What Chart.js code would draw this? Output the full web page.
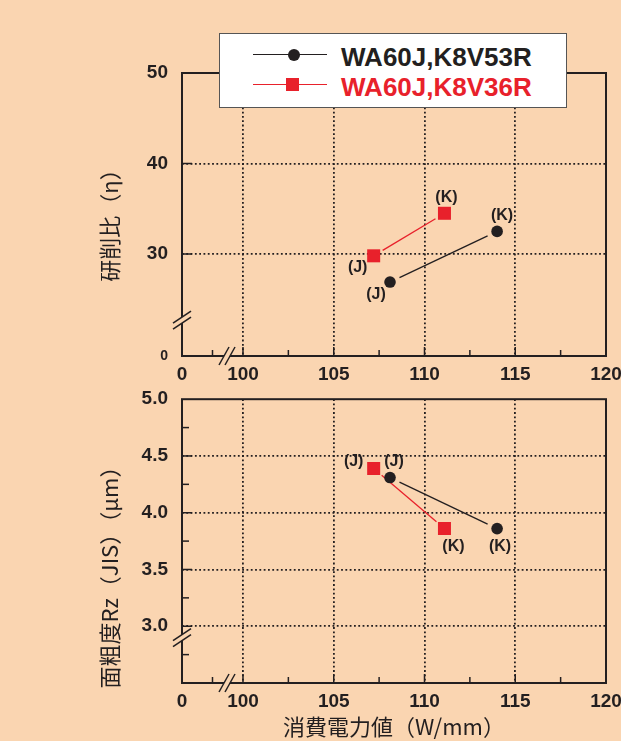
<!DOCTYPE html>
<html>
<head>
<meta charset="utf-8">
<script src="https://cdn.jsdelivr.net/npm/chart.js@4"></script>
<style>
  body { margin: 0; width: 621px; height: 741px; overflow: hidden; position: relative; background: #FAD5B1; }
  canvas { position: absolute; left: 0; }
  #top { top: 0; }
  #bottom { top: 390px; }
  #legend { position: absolute; left: 219px; top: 33px; width: 346px; height: 73px; background: #fff; border: 1.5px solid #555; }
  .ln { position: absolute; height: 1.3px; left: 33px; width: 74px; }
  .mk { position: absolute; }
  .txt { position: absolute; left: 121px; font: bold 26px "Liberation Sans", Arial, sans-serif; line-height: 30px; white-space: nowrap; }
</style>
</head>
<body>
<canvas id="top" width="621" height="390"></canvas>
<canvas id="bottom" width="621" height="351"></canvas>
<div id="legend">
  <div class="ln" style="top:20px;background:#231F20"></div>
  <div class="mk" style="left:68px;top:15px;width:12px;height:12px;border-radius:50%;background:#231F20"></div>
  <div class="txt" id="name0" style="top:8px;color:#231F20"></div>
  <div class="ln" style="top:50px;background:#E8212B"></div>
  <div class="mk" style="left:66px;top:44px;width:13px;height:13px;background:#E8212B"></div>
  <div class="txt" id="name1" style="top:38px;color:#E8212B"></div>
</div>
<script>
// values
const seriesNames = ['WA60J,K8V53R', 'WA60J,K8V36R'];
const pointTags = ['(J)', '(K)'];
const powerBlack = [108.1, 114.0];
const powerRed = [107.2, 111.1];
const ratioBlack = [26.9, 32.5];
const ratioRed = [29.8, 34.5];
const roughBlack = [4.31, 3.86];
const roughRed = [4.39, 3.86];

// axis ticks (lowest value is the broken-axis origin, labelled 0)
const xTickValues = [96.64, 98.32, 100, 102.5, 105, 107.5, 110, 112.5, 115, 117.5, 120];
const ratioTickValues = [18.73, 30, 40, 50];
const roughTickValues = [2.5, 2.75, 3, 3.25, 3.5, 3.75, 4, 4.25, 4.5, 4.75, 5];

const ink = '#231F20';
const red = '#E8212B';
const bg = '#FAD5B1';
const tickFont = { family: '"Liberation Sans", Arial, sans-serif', size: 19, weight: 'bold' };
const jpFont = '22px "Noto Sans CJK JP", sans-serif';
const gridDash = [1.8, 2.5];

document.getElementById('name0').textContent = seriesNames[0];
document.getElementById('name1').textContent = seriesNames[1];

function toPoints(xs, ys) {
    return xs.map((x, i) => ({ x, y: ys[i] }));
}

// draws the // marks where an axis is broken
function drawBreak(ctx, cx, cy, d, sep) {
    const a = [cx - sep[0] / 2, cy - sep[1] / 2];
    const b = [cx + sep[0] / 2, cy + sep[1] / 2];
    ctx.fillStyle = bg;
    ctx.beginPath();
    ctx.moveTo(a[0] - d[0], a[1] - d[1]);
    ctx.lineTo(a[0] + d[0], a[1] + d[1]);
    ctx.lineTo(b[0] + d[0], b[1] + d[1]);
    ctx.lineTo(b[0] - d[0], b[1] - d[1]);
    ctx.closePath();
    ctx.fill();
    ctx.strokeStyle = ink;
    ctx.lineWidth = 1.5;
    [a, b].forEach((p) => {
        ctx.beginPath();
        ctx.moveTo(p[0] - d[0], p[1] - d[1]);
        ctx.lineTo(p[0] + d[0], p[1] + d[1]);
        ctx.stroke();
    });
}

// lines between points, stopping short of the markers
const gapLines = {
    id: 'gapLines',
    beforeDatasetsDraw(chart) {
        const ctx = chart.ctx;
        chart.data.datasets.forEach((ds, i) => {
            const pts = chart.getDatasetMeta(i).data;
            ctx.save();
            ctx.strokeStyle = ds.backgroundColor;
            ctx.lineWidth = 1.3;
            for (let k = 1; k < pts.length; k++) {
                const a = pts[k - 1], b = pts[k];
                const dx = b.x - a.x, dy = b.y - a.y;
                const g = 10.5 / Math.hypot(dx, dy);
                ctx.beginPath();
                ctx.moveTo(a.x + dx * g, a.y + dy * g);
                ctx.lineTo(b.x - dx * g, b.y - dy * g);
                ctx.stroke();
            }
            ctx.restore();
        });
    },
    afterDatasetsDraw(chart, args, opts) {
        const ctx = chart.ctx;
        ctx.save();
        ctx.font = 'bold 16px "Liberation Sans", Arial, sans-serif';
        ctx.fillStyle = ink;
        ctx.textAlign = 'center';
        ctx.textBaseline = 'middle';
        chart.data.datasets.forEach((ds, i) => {
            chart.getDatasetMeta(i).data.forEach((p, k) => {
                const off = opts.offsets[i][k];
                ctx.fillText(pointTags[k], p.x + off[0], p.y + off[1]);
            });
        });
        ctx.restore();
    }
};

// frame, inward tick marks, axis breaks and titles
const frame = {
    id: 'frame',
    afterDraw(chart, args, opts) {
        const { ctx, chartArea: a, scales: { x, y } } = chart;
        ctx.save();
        ctx.strokeStyle = ink;
        ctx.lineWidth = 1.5;
        x.ticks.forEach((t) => {
            if (t.value === x.min) return;
            const px = x.getPixelForValue(t.value);
            const len = t.value % 5 === 0 ? 9 : 6;
            ctx.beginPath();
            ctx.moveTo(px, a.bottom);
            ctx.lineTo(px, a.bottom - len);
            ctx.stroke();
        });
        y.ticks.forEach((t) => {
            if (t.value === y.min || t.value === y.max) return;
            const py = y.getPixelForValue(t.value);
            const len = opts.isMajorY(t.value) ? 10 : 7;
            ctx.beginPath();
            ctx.moveTo(a.left, py);
            ctx.lineTo(a.left + len, py);
            ctx.stroke();
        });
        ctx.lineWidth = 2;
        ctx.strokeRect(a.left, a.top, a.right - a.left, a.bottom - a.top);

        drawBreak(ctx, a.left, y.getPixelForValue(opts.yBreak), [9, -6], [0, 6]);
        drawBreak(ctx, x.getPixelForValue(opts.xBreak), a.bottom, [5, -9], [6, 0]);

        ctx.fillStyle = ink;
        ctx.font = jpFont;
        ctx.textAlign = 'center';
        ctx.textBaseline = 'middle';
        opts.titles.forEach((t) => {
            ctx.save();
            ctx.translate(t.x, t.y);
            ctx.rotate(t.rot);
            ctx.fillText(t.text, 0, 0);
            ctx.restore();
        });
        ctx.restore();
    }
};

function makePanel(id, cfg) {
    return new Chart(document.getElementById(id), {
        type: 'scatter',
        data: {
            datasets: [
                {
                    label: seriesNames[0],
                    data: toPoints(powerBlack, cfg.black),
                    pointStyle: 'circle',
                    pointRadius: 5.8,
                    backgroundColor: ink,
                    borderWidth: 0,
                },
                {
                    label: seriesNames[1],
                    data: toPoints(powerRed, cfg.red),
                    pointStyle: 'rect',
                    pointRadius: 9.2,
                    backgroundColor: red,
                    borderWidth: 0,
                },
            ],
        },
        options: {
            responsive: false,
            animation: false,
            events: [],
            layout: { padding: { top: cfg.padTop, right: 15, left: 0, bottom: 0 } },
            plugins: {
                legend: { display: false },
                tooltip: { enabled: false },
                gapLines: { offsets: cfg.tagOffsets },
                frame: { isMajorY: cfg.isMajorY, yBreak: cfg.yBreak, xBreak: 99.12, titles: cfg.titles },
            },
            scales: {
                x: {
                    type: 'linear',
                    min: xTickValues[0],
                    max: 120,
                    afterFit: (s) => { s.height = cfg.xHeight; s.paddingLeft = 0; s.paddingRight = 0; },
                    afterBuildTicks: (s) => { s.ticks = xTickValues.map((v) => ({ value: v })); },
                    ticks: {
                        autoSkip: false,
                        maxRotation: 0,
                        padding: 7,
                        color: ink,
                        font: tickFont,
                        callback: (v) => (v === xTickValues[0] ? '0' : v % 5 === 0 ? String(v) : ''),
                    },
                    grid: {
                        drawTicks: false,
                        lineWidth: 1.8,
                        color: (c) => (c.tick && c.tick.value % 5 === 0 && c.tick.value < 120 ? ink : 'rgba(0,0,0,0)'),
                    },
                    border: { display: false, dash: gridDash },
                },
                y: {
                    type: 'linear',
                    min: cfg.yTicks[0],
                    max: cfg.yTicks[cfg.yTicks.length - 1],
                    afterFit: (s) => { s.width = 182; s.paddingTop = 0; s.paddingBottom = 0; },
                    afterBuildTicks: (s) => { s.ticks = cfg.yTicks.map((v) => ({ value: v })); },
                    ticks: {
                        autoSkip: false,
                        padding: 14,
                        color: ink,
                        font: (c) => (c.tick && c.tick.value === cfg.yTicks[0] ? { ...tickFont, size: 14 } : tickFont),
                        callback: cfg.yLabel,
                    },
                    grid: {
                        drawTicks: false,
                        lineWidth: 1.8,
                        color: (c) => (c.tick && cfg.yGrid.includes(c.tick.value) ? ink : 'rgba(0,0,0,0)'),
                    },
                    border: { display: false, dash: gridDash },
                },
            },
        },
        plugins: [gapLines, frame],
    });
}

makePanel('top', {
    black: ratioBlack,
    red: ratioRed,
    yTicks: ratioTickValues,
    yGrid: [30, 40],
    yLabel: (v) => (v === ratioTickValues[0] ? '0' : String(v)),
    isMajorY: () => true,
    yBreak: 22.7,
    padTop: 73,
    xHeight: 34,
    tagOffsets: [[[-14, 13], [5, -16]], [[-16, 12], [2, -16]]],
    titles: [{ text: '研削比（η）', x: 110, y: 220, rot: -Math.PI / 2 }],
});

makePanel('bottom', {
    black: roughBlack,
    red: roughRed,
    yTicks: roughTickValues,
    yGrid: [3, 3.5, 4, 4.5],
    yLabel: (v) => (Math.abs(v * 2 - Math.round(v * 2)) < 1e-6 && v > 2.5 ? v.toFixed(1) : ''),
    isMajorY: (v) => Math.abs(v * 2 - Math.round(v * 2)) < 1e-6,
    yBreak: 2.9,
    padTop: 9,
    xHeight: 58,
    tagOffsets: [[[4, -16], [3, 18]], [[-20, -7], [9, 18]]],
    titles: [
        { text: '面粗度Rz（JIS）（μm）', x: 110, y: 182, rot: -Math.PI / 2 },
        { text: '消費電力値（W/mm）', x: 394, y: 337, rot: 0 },
    ],
});
</script>
</body>
</html>
